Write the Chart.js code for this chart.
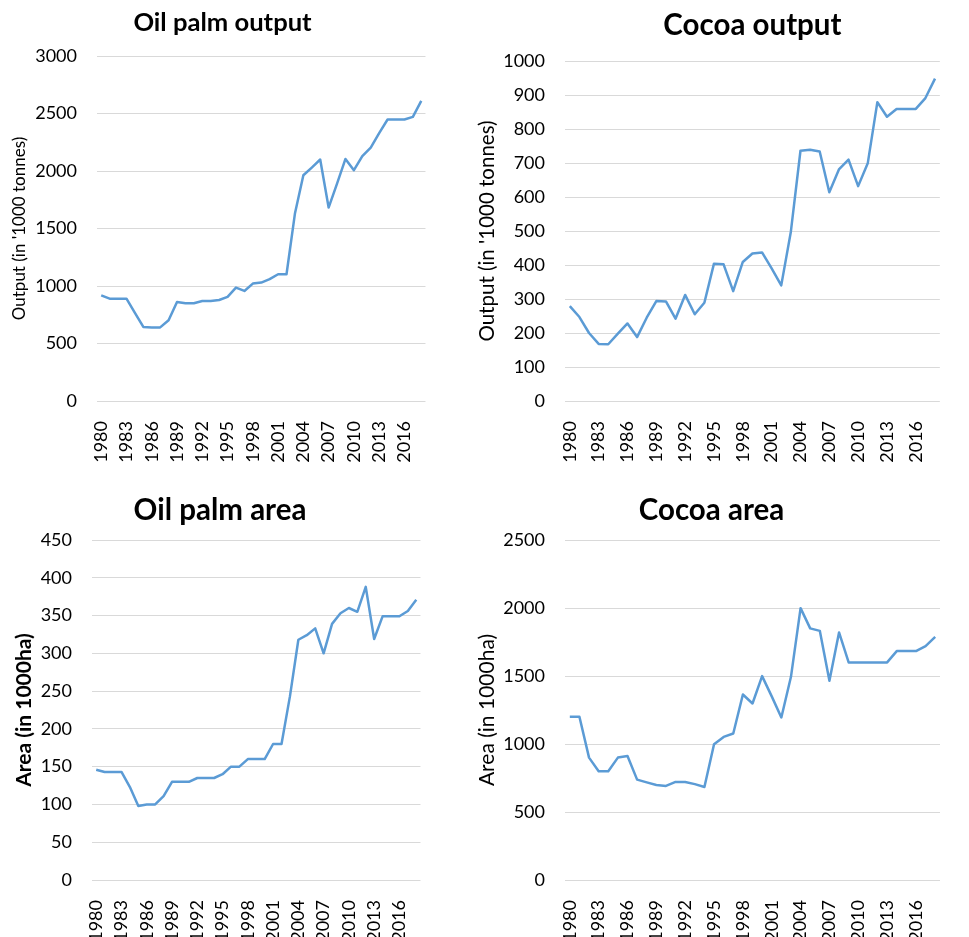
<!DOCTYPE html>
<html>
<head>
<meta charset="utf-8">
<title>Oil palm and cocoa</title>
<script src="https://cdn.jsdelivr.net/npm/chart.js@4.4.1/dist/chart.umd.min.js"></script>
<style>
  html, body { margin: 0; padding: 0; background: #fff; }
  #wrap { position: relative; width: 969px; height: 937px; overflow: hidden; }
  canvas { position: absolute; }
</style>
</head>
<body>
<div id="wrap">
  <canvas id="chart-oil-out" width="455" height="470" style="left:0;top:0"></canvas>
  <canvas id="chart-cocoa-out" width="499" height="470" style="left:470px;top:0"></canvas>
  <canvas id="chart-oil-area" width="450" height="467" style="left:0;top:470px"></canvas>
  <canvas id="chart-cocoa-area" width="499" height="467" style="left:470px;top:470px"></canvas>
</div>
<script>
// years 1980..2018
const years = ["1980","1981","1982","1983","1984","1985","1986","1987","1988","1989",
  "1990","1991","1992","1993","1994","1995","1996","1997","1998","1999",
  "2000","2001","2002","2003","2004","2005","2006","2007","2008","2009",
  "2010","2011","2012","2013","2014","2015","2016","2017","2018"];

// output in '1000 tonnes
const oilPalmOutput = [919, 890, 890, 890, 767, 644, 640, 640, 702, 861,
  850, 850, 870, 870, 878, 905, 986, 957, 1021, 1030,
  1060, 1102, 1102, 1630, 1963, 2030, 2100, 1682, 1890, 2105,
  2007, 2129, 2204, 2330, 2448, 2448, 2448, 2471, 2610];
const cocoaOutput = [279, 247, 200, 168, 167, 198, 228, 188, 245, 294,
  293, 242, 312, 255, 289, 404, 402, 323, 409, 434,
  437, 390, 340, 498, 736, 739, 734, 614, 681, 710,
  632, 699, 879, 836, 859, 859, 859, 891, 948];

// area in 1000ha
const oilPalmArea = [146, 143, 143, 143, 123, 98, 100, 100, 111, 130,
  130, 130, 135, 135, 135, 140, 150, 150, 160, 160,
  160, 180, 180, 243, 318, 324, 333, 300, 339, 353,
  360, 355, 388, 319, 349, 349, 349, 356, 371];
const cocoaArea = [1200, 1200, 900, 800, 800, 900, 912, 738, 718, 699,
  692, 721, 721, 705, 684, 998, 1052, 1077, 1364, 1298,
  1499, 1350, 1195, 1494, 1999, 1850, 1832, 1465, 1820, 1600,
  1600, 1600, 1600, 1600, 1683, 1683, 1683, 1720, 1788];

const FONT = "Lato, 'Open Sans', sans-serif";
const LINE_BLUE = "#5B9BD5";
const GRID = "#D9D9D9";

function lineChart(id, c) {
  const ctx = document.getElementById(id);
  if (!ctx) return null;
  return new Chart(ctx, {
    type: "line",
    data: {
      labels: years,
      datasets: [{
        label: c.title, data: c.values,
        borderColor: LINE_BLUE, borderWidth: 2.5, borderJoinStyle: "round",
        pointRadius: 0, tension: 0, fill: false
      }]
    },
    options: {
      responsive: false, animation: false, devicePixelRatio: 1,
      layout: { padding: { left: 0, right: c.padRight, top: 0, bottom: 0 } },
      plugins: {
        legend: { display: false },
        tooltip: { enabled: false },
        title: {
          display: true, text: c.title, color: "#000", fullSize: c.fullTitle,
          font: { family: FONT, size: c.titleSize, weight: "bold", lineHeight: 1.2 },
          padding: { top: c.titleTop, bottom: c.titleBottom }
        }
      },
      scales: {
        x: {
          offset: true,
          grid: { display: false },
          border: { display: false },
          afterFit: (s) => { s.height = c.xHeight; },
          ticks: {
            autoSkip: false, minRotation: 90, maxRotation: 90, padding: 12,
            color: "#000", font: { family: FONT, size: 18 },
            callback: (v, i) => (i % 3 === 0 ? years[i] : "")
          }
        },
        y: {
          min: 0, max: c.max,
          grid: { color: GRID, lineWidth: 1, drawTicks: false },
          border: { display: false },
          afterFit: (s) => { s.width = c.yWidth; },
          ticks: {
            stepSize: c.step, padding: 20, color: "#000", font: { family: FONT, size: 18 },
            callback: (v) => String(v)
          },
          title: {
            display: true, text: c.yTitle, color: "#000",
            font: { family: FONT, size: c.yTitleSize, weight: c.yTitleWeight, lineHeight: 1.2 },
            padding: { top: c.yTitleTop, bottom: 0 }
          }
        }
      }
    }
  });
}

lineChart("chart-oil-out", {
  title: "Oil palm output", values: oilPalmOutput, max: 3000, step: 500,
  yTitle: "Output (in '1000 tonnes)", yTitleSize: 17, yTitleWeight: "normal", yTitleTop: 9.3,
  titleSize: 25.6, titleTop: 7, titleBottom: 18.3, fullTitle: true,
  padRight: 10, yWidth: 97, xHeight: 69
});
lineChart("chart-cocoa-out", {
  title: "Cocoa output", values: cocoaOutput, max: 1000, step: 100,
  yTitle: "Output (in '1000 tonnes)", yTitleSize: 20.5, yTitleWeight: "normal", yTitleTop: 4.7,
  titleSize: 29.5, titleTop: 7.4, titleBottom: 18.2, fullTitle: false,
  padRight: 1, yWidth: 95, xHeight: 69
});
lineChart("chart-oil-area", {
  title: "Oil palm area", values: oilPalmArea, max: 450, step: 50,
  yTitle: "Area (in 1000ha)", yTitleSize: 21, yTitleWeight: "bold", yTitleTop: 11.4,
  titleSize: 29.5, titleTop: 22.8, titleBottom: 11.8, fullTitle: true,
  padRight: 10, yWidth: 92, xHeight: 57
});
lineChart("chart-cocoa-area", {
  title: "Cocoa area", values: cocoaArea, max: 2500, step: 500,
  yTitle: "Area (in 1000ha)", yTitleSize: 21, yTitleWeight: "normal", yTitleTop: 4.4,
  titleSize: 29.5, titleTop: 22.8, titleBottom: 11.8, fullTitle: true,
  padRight: 16, yWidth: 95, xHeight: 57
});
</script>
</body>
</html>
